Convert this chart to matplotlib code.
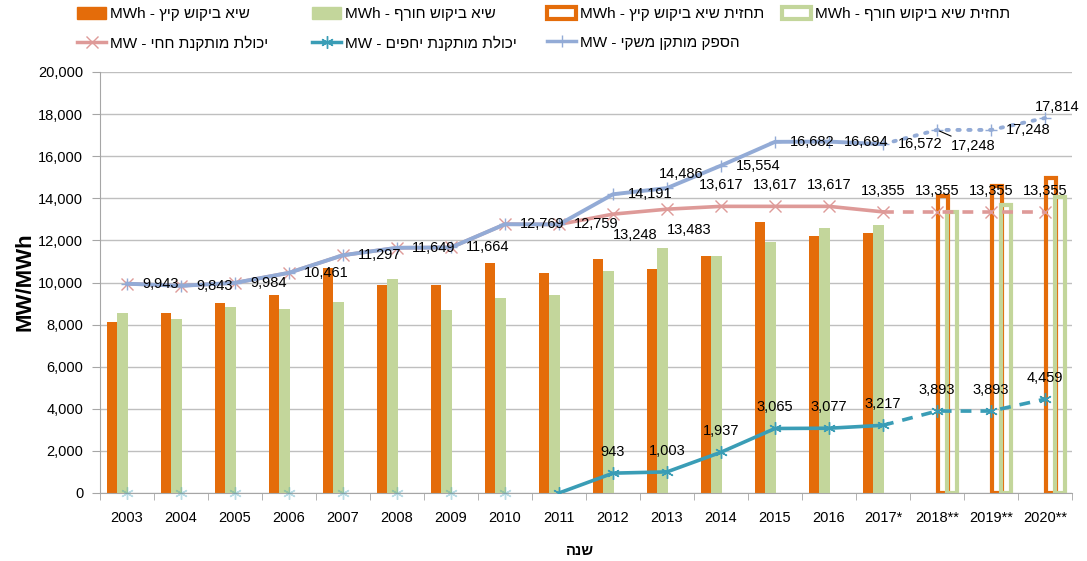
import numpy as np
import matplotlib
matplotlib.use('Agg')
import matplotlib.pyplot as plt
from matplotlib.patches import Patch
from matplotlib.lines import Line2D

plt.rcParams['font.family'] = ['Liberation Sans', 'DejaVu Sans']

# נתונים
years = ['2003', '2004', '2005', '2006', '2007', '2008', '2009', '2010', '2011',
         '2012', '2013', '2014', '2015', '2016', '2017*', '2018**', '2019**', '2020**']

summer_peak = [8100, 8540, 9010, 9390, 10670, 9880, 9870, 10930, 10440,
               11100, 10640, 11270, 12870, 12190, 12350]
winter_peak = [8550, 8280, 8820, 8740, 9060, 10180, 8710, 9260, 9420,
               10530, 11640, 11270, 11940, 12600, 12720]
summer_forecast = [14110, 14580, 14950]   # 2018-2020
winter_forecast = [13330, 13670, 14050]

total_capacity = [9943, 9843, 9984, 10461, 11297, 11649, 11664, 12769, 12759,
                  14191, 14486, 15554, 16682, 16694, 16572, 17248, 17248, 17814]
iec_capacity = [9943, 9843, 9984, 10461, 11297, 11649, 11664, 12769, 12759,
                13248, 13483, 13617, 13617, 13617, 13355, 13355, 13355, 13355]
ipp_capacity = [0, 0, 0, 0, 0, 0, 0, 0, 0,
                943, 1003, 1937, 3065, 3077, 3217, 3893, 3893, 4459]

# כותרות (בסדר לוגי) - matplotlib לא תומך ב-bidi, לכן הופכים לתצוגה
legend_heb = ['שיא ביקוש קיץ', 'שיא ביקוש חורף', 'תחזית שיא ביקוש קיץ', 'תחזית שיא ביקוש חורף',
              'יכולת מותקנת חחי', 'יכולת מותקנת יחפים', 'הספק מותקן משקי']
legend_units = ['MWh', 'MWh', 'MWh', 'MWh', 'MW', 'MW', 'MW']
xlabel_heb = 'שנה'


def rtl(heb, unit=None):
    if unit is None:
        return heb[::-1]
    return unit + ' - ' + heb[::-1]


c_orange = '#E46C0A'
c_green = '#C3D69B'
c_pink = '#DE9A98'
c_teal = '#3A9DB6'
c_blue = '#93ABD6'

fig = plt.figure(figsize=(10.87, 5.61), dpi=100)
ax = fig.add_axes([100/1087, 1-493/561, 972/1087, 421/561])

x = np.arange(len(years))
w = 0.187
n_hist = len(summer_peak)
xh = x[:n_hist]
xf = x[n_hist:]

ax.bar(xh - 1.45*w, summer_peak, w, color=c_orange, zorder=2)
ax.bar(xh - 0.45*w, winter_peak, w, color=c_green, zorder=2)
ax.bar(xf + 0.55*w, summer_forecast, w, facecolor='none', edgecolor=c_orange, lw=3, zorder=2)
ax.bar(xf + 1.5*w, winter_forecast, w, facecolor='none', edgecolor=c_green, lw=3, zorder=2)

# קווים
k = 14  # 2017
ax.plot(x[:k+1], iec_capacity[:k+1], color=c_pink, lw=2.6, zorder=3)
ax.plot(x[k:], iec_capacity[k:], color=c_pink, lw=2.6, ls=(0, (3, 2.5)), zorder=3)
ax.plot(x, iec_capacity, ls='none', marker='x', ms=8, mew=1, color=c_pink, zorder=4)

ax.plot(x[:k+1], total_capacity[:k+1], color=c_blue, lw=2.8, zorder=4)
ax.plot(x[k:], total_capacity[k:], color=c_blue, lw=2.8, ls=(0, (0.6, 2.2)),
        dash_capstyle='round', zorder=4)
ax.plot(x, total_capacity, ls='none', marker='+', ms=9, mew=1, color=c_blue, zorder=4)

ax.plot(x[8:k+1], ipp_capacity[8:k+1], color=c_teal, lw=2.6, zorder=3)
ax.plot(x[k:], ipp_capacity[k:], color=c_teal, lw=2.6, ls=(0, (3, 2.5)), zorder=3)
ax.plot(x[8:], ipp_capacity[8:], ls='none', marker=(6, 2, 0), ms=9, mew=1, color=c_teal, zorder=4)
ax.plot(x[:8], ipp_capacity[:8], ls='none', marker=(6, 2, 0), ms=9, mew=1, color=c_teal,
        alpha=0.35, zorder=4, clip_on=False)

# תוויות נתונים
lab_kw = dict(textcoords='offset pixels', fontsize=10.5, va='center', zorder=6)
for i, v in enumerate(total_capacity):
    txt = f'{v:,}'
    if i == 10:  # 2013
        ax.annotate(txt, (x[i], v), xytext=(14, 14), ha='center', **lab_kw)
    elif i == 15:  # 2018 - with leader line
        ax.annotate(txt, (x[i], v), xytext=(14, -16), ha='left',
                    arrowprops=dict(arrowstyle='-', color='black', lw=0.8,
                                    shrinkA=0, shrinkB=2), **lab_kw)
    elif i == 17:
        ax.annotate(txt, (x[i], v), xytext=(12, 11), ha='center', **lab_kw)
    else:
        ax.annotate(txt, (x[i], v), xytext=(15, 0), ha='left', **lab_kw)

for i in range(9, len(iec_capacity)):
    v = iec_capacity[i]
    if i in (9, 10):
        ax.annotate(f'{v:,}', (x[i], v), xytext=(22, -21), ha='center', **lab_kw)
    else:
        ax.annotate(f'{v:,}', (x[i], v), xytext=(0, 21), ha='center', **lab_kw)

for i in range(9, len(ipp_capacity)):
    v = ipp_capacity[i]
    ax.annotate(f'{v:,}', (x[i], v), xytext=(0, 21), ha='center', **lab_kw)

# צירים
ax.set_xlim(-0.5, len(years) - 0.5)
ax.set_ylim(0, 20000)
ax.set_yticks(np.arange(0, 20001, 2000))
ax.set_yticklabels([f'{t:,}' for t in range(0, 20001, 2000)], fontsize=10.5)
ax.set_xticks(x)
ax.set_xticklabels(years, fontsize=10.5)
ax.set_xticks(np.arange(-0.5, len(years), 1), minor=True)
ax.tick_params(axis='x', which='major', length=0, pad=13)
ax.tick_params(axis='x', which='minor', length=5, color='#A6A6A6')
ax.tick_params(axis='y', length=6, color='#A6A6A6', pad=6)
ax.grid(axis='y', color='#BFBFBF', lw=1, zorder=0)
ax.set_axisbelow(True)
for s in ('top', 'right'):
    ax.spines[s].set_visible(False)
for s in ('left', 'bottom'):
    ax.spines[s].set_color('#A6A6A6')

fig.text(25/1087, 1-282/561, 'MW/MWh', rotation=90, fontsize=16, fontweight='bold',
         ha='center', va='center')
fig.text(580/1087, 1-551/561, rtl(xlabel_heb), fontsize=10.5, fontweight='bold',
         ha='center', va='center')

# מקרא
handles = [
    Patch(facecolor=c_orange, edgecolor=c_orange),
    Patch(facecolor=c_green, edgecolor=c_green),
    Patch(facecolor='white', edgecolor=c_orange, lw=3),
    Patch(facecolor='white', edgecolor=c_green, lw=3),
    Line2D([], [], color=c_pink, lw=2.5, marker='x', ms=8),
    Line2D([], [], color=c_teal, lw=2.5, marker=(6, 2, 0), ms=9),
    Line2D([], [], color=c_blue, lw=2.5, marker='+', ms=9),
]
leg_pos = [(77, 14), (312, 14), (547, 14), (782, 14), (77, 43), (312, 43), (547, 43)]
for h, heb, unit, (px, py) in zip(handles, legend_heb, legend_units, leg_pos):
    fig.legend([h], [rtl(heb, unit)], loc='center left',
               bbox_to_anchor=(px/1087, 1-py/561), frameon=False, fontsize=11,
               borderpad=0, borderaxespad=0, handlelength=1.9, handleheight=0.9,
               handletextpad=0.25)

fig.savefig('out.png', dpi=100)
